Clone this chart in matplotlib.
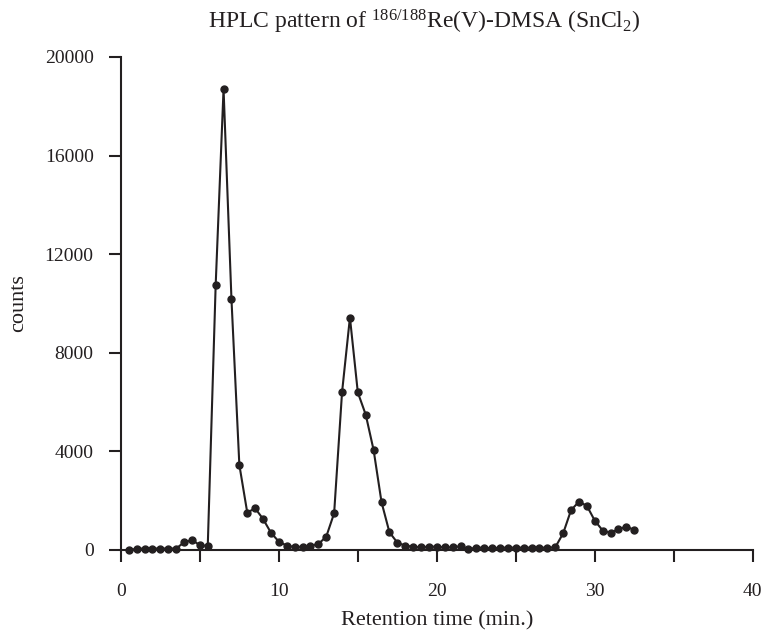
import numpy as np
import matplotlib
matplotlib.use("Agg")
import matplotlib.pyplot as plt

plt.rcParams["font.family"] = ["Liberation Serif", "DejaVu Serif"]
plt.rcParams["mathtext.fontset"] = "custom"
plt.rcParams["mathtext.rm"] = "Liberation Serif"
plt.rcParams["mathtext.it"] = "Liberation Serif:italic"

# retention time (min) and counts
time_min = [0.5, 1.0, 1.5, 2.0, 2.5, 3.0, 3.5, 4.0, 4.5, 5.0,
            5.5, 6.0, 6.5, 7.0, 7.5, 8.0, 8.5, 9.0, 9.5, 10.0,
            10.5, 11.0, 11.5, 12.0, 12.5, 13.0, 13.5, 14.0, 14.5, 15.0,
            15.5, 16.0, 16.5, 17.0, 17.5, 18.0, 18.5, 19.0, 19.5, 20.0,
            20.5, 21.0, 21.5, 22.0, 22.5, 23.0, 23.5, 24.0, 24.5, 25.0,
            25.5, 26.0, 26.5, 27.0, 27.5, 28.0, 28.5, 29.0, 29.5, 30.0,
            30.5, 31.0, 31.5, 32.0, 32.5]
counts = [0, 50, 60, 60, 60, 60, 60, 310, 400, 200,
          160, 10730, 18700, 10180, 3450, 1520, 1690, 1260, 700, 340,
          180, 120, 135, 175, 240, 540, 1490, 6390, 9430, 6390,
          5490, 4050, 1940, 720, 300, 175, 135, 110, 135, 135,
          110, 110, 150, 40, 95, 95, 70, 95, 95, 95,
          95, 95, 95, 95, 110, 680, 1620, 1960, 1790, 1190,
          790, 700, 840, 950, 810]

x_ticks = [0, 10, 20, 30, 40]
y_ticks = [0, 4000, 8000, 12000, 16000, 20000]
ink = "#231f20"

fig = plt.figure(figsize=(7.65, 6.37), dpi=100)
ax = fig.add_axes([0.158, 0.1366, 0.826, 0.774])

ax.plot(time_min, counts, color=ink, lw=1.5, marker="o", ms=5,
        mfc=ink, mec=ink, clip_on=False, zorder=3)

ax.set_xlim(0, 40)
ax.set_ylim(0, 20000)
ax.set_xticks(x_ticks)
ax.set_xticks(np.arange(0, 41, 5), minor=True)
ax.set_yticks(y_ticks)

for side in ("top", "right"):
    ax.spines[side].set_visible(False)
for side in ("left", "bottom"):
    ax.spines[side].set_color(ink)
    ax.spines[side].set_linewidth(1.5)

ax.tick_params(axis="both", which="both", direction="out", color=ink,
               width=1.5, length=8.6, labelsize=14, labelcolor=ink)
ax.tick_params(axis="x", which="both", pad=15)
ax.tick_params(axis="y", pad=11)

ax.set_xlabel("Retention time (min.)", fontsize=16, color=ink, labelpad=8)
ax.set_ylabel("counts", fontsize=16, color=ink, labelpad=12)

fig.text(0.554, 0.966, r"HPLC pattern of $^{186/188}$Re(V)-DMSA (SnCl$_2$)",
         ha="center", va="center", fontsize=17, color=ink)

fig.savefig("out.png", dpi=100)
